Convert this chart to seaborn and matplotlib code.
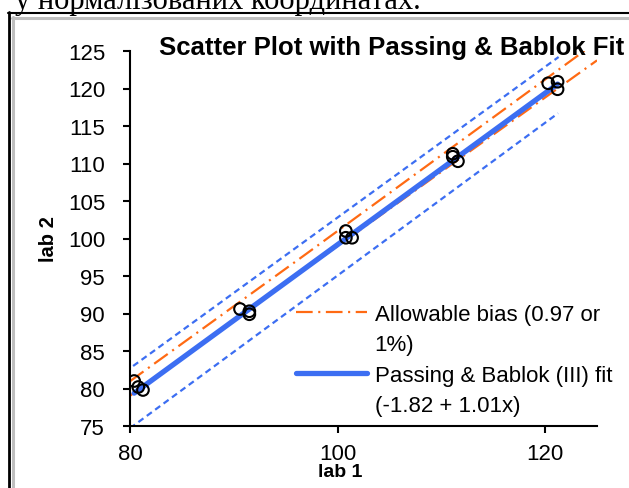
import matplotlib
matplotlib.use("Agg")
import matplotlib.pyplot as plt
from matplotlib.lines import Line2D
import seaborn as sns
import pandas as pd

# -----------------------------
# Data
# -----------------------------
lab1 = [80.4, 80.8, 81.25, 90.6, 91.5, 91.5, 100.8, 100.8, 101.4,
        111.1, 111.1, 111.6, 120.3, 121.2, 121.2]
lab2 = [81.0, 80.2, 79.8, 90.6, 90.3, 89.9, 101.0, 100.1, 100.1,
        111.3, 110.9, 110.3, 120.7, 120.9, 119.9]

fit_x = [80.4, 121.2]
fit_y = [79.38, 120.59]

band_upper_x = [80.3, 121.3]
band_upper_y = [83.0, 124.2]
band_lower_x = [80.0, 121.25]
band_lower_y = [74.7, 116.7]

bias_x = [80.0, 97.0, 125.0]
bias_upper = [80.97, 97.97, 126.25]
bias_lower = [79.03, 96.03, 123.75]

x_ticks = [80, 100, 120]
y_ticks = [75, 80, 85, 90, 95, 100, 105, 110, 115, 120, 125]

ORANGE = "#FF6A13"
BLUE = "#3C6EF2"

# -----------------------------
# Style
# -----------------------------
sns.set_theme(style="ticks", rc={
    "text.color": "black",
    "axes.labelcolor": "black",
    "xtick.color": "black",
    "ytick.color": "black",
})
plt.rcParams["font.family"] = ["Liberation Sans", "DejaVu Sans"]
plt.rcParams["lines.scale_dashes"] = False

fig = plt.figure(figsize=(6.29, 4.89), dpi=100)
ax = fig.add_axes([130 / 629, 1 - 427 / 489, 467 / 629, 375 / 489])

df = pd.DataFrame({"lab 1": lab1, "lab 2": lab2})

# bias lines (dash-dot)
for ys in (bias_upper, bias_lower):
    sns.lineplot(x=bias_x, y=ys, ax=ax, color=ORANGE, linewidth=1.6,
                 estimator=None, sort=False)
    ax.lines[-1].set_dashes([12, 4, 1.5, 4])

# dashed band lines
sns.lineplot(x=band_upper_x, y=band_upper_y, ax=ax, color=BLUE,
             linewidth=1.6, estimator=None, sort=False)
ax.lines[-1].set_dashes([4.5, 3])
sns.lineplot(x=band_lower_x, y=band_lower_y, ax=ax, color=BLUE,
             linewidth=1.6, estimator=None, sort=False)
ax.lines[-1].set_dashes([4.5, 3])

# Passing & Bablok fit
sns.lineplot(x=fit_x, y=fit_y, ax=ax, color=BLUE, linewidth=3.8,
             estimator=None, sort=False)

# points
sns.scatterplot(data=df, x="lab 1", y="lab 2", ax=ax, s=70,
                facecolor="none", edgecolor="black", linewidth=1.5,
                zorder=5)

ax.set_xlim(80, 125)
ax.set_ylim(75, 125)
ax.set_xticks(x_ticks)
ax.set_yticks(y_ticks)
ax.tick_params(labelsize=16, length=5, width=1.5, color="black")
ax.tick_params(axis="x", pad=7)
ax.tick_params(axis="y", pad=13)
for side in ("top", "right"):
    ax.spines[side].set_visible(False)
for side in ("left", "bottom"):
    ax.spines[side].set_linewidth(1.5)
    ax.spines[side].set_color("black")

ax.set_xlabel("lab 1", fontsize=14, fontweight="bold")
ax.set_ylabel("lab 2", fontsize=14.5, fontweight="bold")
ax.xaxis.set_label_coords((340 - 130) / 467, -0.1)
ax.yaxis.set_label_coords(-0.155, 0.5)

# legend
handles = [
    Line2D([], [], color=ORANGE, linewidth=1.6, dashes=[12, 4, 1.5, 4]),
    Line2D([], [], color="none"),
    Line2D([], [], color=BLUE, linewidth=3.8, solid_capstyle="round"),
    Line2D([], [], color="none"),
]
labels = ["Allowable bias (0.97 or", "1%)",
          "Passing & Bablok (III) fit", "(-1.82 + 1.01x)"]
ax.legend(handles, labels, loc="upper left", bbox_to_anchor=(0.355, 0.325),
          frameon=False, fontsize=16, handlelength=3.2, handletextpad=0.35,
          labelspacing=0.42, borderpad=0, borderaxespad=0)

# title
fig.text(392 / 629, 1 - 55 / 489, "Scatter Plot with Passing & Bablok Fit",
         ha="center", va="baseline", fontsize=18.5, fontweight="bold")

# -----------------------------
# Page decoration around the chart
# -----------------------------
fig.text(15 / 629, 1 - 9 / 489, "у нормалізованих координатах.",
         ha="left", va="baseline", fontsize=22, family="Liberation Serif")
fig.add_artist(Line2D([9 / 629, 9 / 629], [0, 1 - 13 / 489],
                      transform=fig.transFigure, color="black", linewidth=2))
fig.add_artist(Line2D([8 / 629, 1], [1 - 13.5 / 489, 1 - 13.5 / 489],
                      transform=fig.transFigure, color="black", linewidth=1.5))
fig.add_artist(Line2D([13 / 629, 13 / 629], [0, 1 - 18 / 489],
                      transform=fig.transFigure, color="#BFBFBF", linewidth=2.2))
fig.add_artist(Line2D([12 / 629, 1], [1 - 18.5 / 489, 1 - 18.5 / 489],
                      transform=fig.transFigure, color="#BFBFBF", linewidth=2.2))

fig.savefig("out.png", dpi=100)
